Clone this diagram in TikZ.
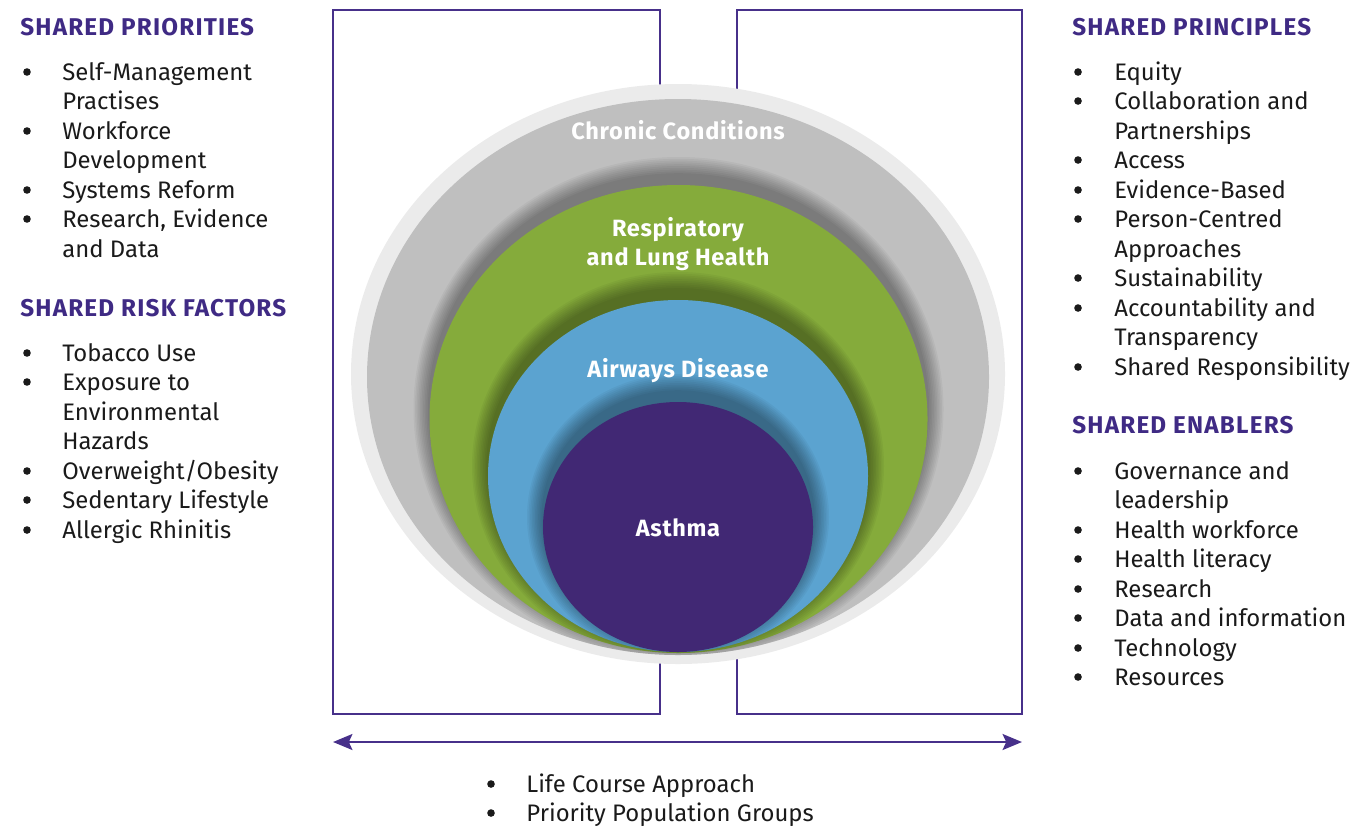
\documentclass[tikz,border=0pt]{standalone}
\usepackage{fontspec}
\setmainfont{Fira Sans}
\usetikzlibrary{arrows.meta}
\definecolor{hdr}{HTML}{3F2A84}
\definecolor{txt}{HTML}{1A1A1A}
\definecolor{brk}{HTML}{47308A}
\definecolor{lgray}{HTML}{EBEBEB}
\definecolor{mgray}{HTML}{BFBFBF}
\definecolor{cgreen}{HTML}{85AB3B}
\definecolor{cblue}{HTML}{5BA3D0}
\definecolor{cpurple}{HTML}{412874}
\newcommand\itm[4]{\node[it] (#1) at (#2,#3+8) {#4};}
\newcommand\bul[2]{\fill[txt] (#1,#2) circle (3.8);}
\newcommand\shad[4]{\foreach \k in {1,...,10}{\fill[black,opacity=0.04] (#1,#2-10) ellipse ({#3+\k*1.6} and {#4+\k*1.8});}}
\begin{document}
\begin{tikzpicture}[x=0.02cm,y=-0.02cm,
  hd/.style={anchor=base west, text=hdr, font=\fontsize{13.8}{16}\selectfont\bfseries\addfontfeatures{LetterSpace=5}, inner sep=0},
  it/.style={anchor=base west, text=txt, font=\fontsize{13.6}{16}\selectfont, inner sep=0},
  lbl/.style={text=white, font=\fontsize{13.4}{17}\selectfont\bfseries\addfontfeatures{LetterSpace=3}, inner sep=0},
  brk/.style={draw=brk, line width=1.6pt}]
\useasboundingbox (0,0) rectangle (1364,825);
% brackets
\draw[brk] (333,10) rectangle (660,714);
\draw[brk] (737,10) rectangle (1022,714);
\coordinate (aL) at (333,742);
\coordinate (aR) at (1022,742);
\draw[brk, {Stealth[length=11pt,width=9pt,inset=2pt]}-{Stealth[length=11pt,width=9pt,inset=2pt]}] (aL) -- (aR);
% ellipses
\fill[lgray] (678,374) ellipse (327 and 290);
\fill[mgray] (678,377) ellipse (311 and 278);
\begin{scope}
\clip (678,377) ellipse (311 and 278);
\shad{678.5}{419}{249}{234}
\end{scope}
\fill[cgreen] (678.5,419) ellipse (249 and 234);
\begin{scope}
\clip (678.5,419) ellipse (249 and 234);
\shad{678}{476}{190}{176}
\end{scope}
\fill[cblue] (678,476) ellipse (190 and 176);
\begin{scope}
\clip (678,476) ellipse (190 and 176);
\shad{678}{527}{135}{125}
\end{scope}
\fill[cpurple] (678,527) ellipse (135 and 125);
% labels
\node[lbl] (cc) at (678,130) {Chronic Conditions};
\node[lbl] (rl1) at (678,230) {Respiratory};
\node[lbl] (rl2) at (678,259) {and Lung Health};
\node[lbl] (ad) at (678,371) {Airways Disease};
\node[lbl] (as) at (678,528) {Asthma};
% left lists
\node[hd] (hp) at (20,27+8) {SHARED PRIORITIES};
\bul{27}{72}\itm{p1}{62}{72}{Self-Management}
\itm{p1b}{62}{101}{Practises}
\bul{27}{131}\itm{p2}{62}{131}{Workforce}
\itm{p2b}{62}{160}{Development}
\bul{27}{190}\itm{p3}{62}{190}{Systems Reform}
\bul{27}{219}\itm{p4}{62}{219}{Research, Evidence}
\itm{p4b}{62}{249}{and Data}
\node[hd] (hr) at (20,308+8) {SHARED RISK FACTORS};
\bul{27}{353}\itm{r1}{62}{353}{Tobacco Use}
\bul{27}{382}\itm{r2}{62}{382}{Exposure to}
\itm{r2b}{62}{412}{Environmental}
\itm{r2c}{62}{441}{Hazards}
\bul{27}{471}\itm{r3}{62}{471}{Overweight/Obesity}
\bul{27}{500}\itm{r4}{62}{500}{Sedentary Lifestyle}
\bul{27}{530}\itm{r5}{62}{530}{Allergic Rhinitis}
% right lists
\node[hd] (hs) at (1072,27+8) {SHARED PRINCIPLES};
\bul{1078}{72}\itm{s1}{1114}{72}{Equity}
\bul{1078}{101}\itm{s2}{1114}{101}{Collaboration and}
\itm{s2b}{1114}{131}{Partnerships}
\bul{1078}{160}\itm{s3}{1114}{160}{Access}
\bul{1078}{190}\itm{s4}{1114}{190}{Evidence-Based}
\bul{1078}{219}\itm{s5}{1114}{219}{Person-Centred}
\itm{s5b}{1114}{249}{Approaches}
\bul{1078}{278}\itm{s6}{1114}{278}{Sustainability}
\bul{1078}{308}\itm{s7}{1114}{308}{Accountability and}
\itm{s7b}{1114}{337}{Transparency}
\bul{1078}{367}\itm{s8}{1114}{367}{Shared Responsibility}
\node[hd] (he) at (1072,425+8) {SHARED ENABLERS};
\bul{1078}{471}\itm{e1}{1114}{471}{Governance and}
\itm{e1b}{1114}{500}{leadership}
\bul{1078}{530}\itm{e2}{1114}{530}{Health workforce}
\bul{1078}{559}\itm{e3}{1114}{559}{Health literacy}
\bul{1078}{589}\itm{e4}{1114}{589}{Research}
\bul{1078}{618}\itm{e5}{1114}{618}{Data and information}
\bul{1078}{648}\itm{e6}{1114}{648}{Technology}
\bul{1078}{677}\itm{e7}{1114}{677}{Resources}
% bottom list
\bul{491}{784}\itm{b1}{526}{784}{Life Course Approach}
\bul{491}{813}\itm{b2}{526}{813}{Priority Population Groups}
\end{tikzpicture}
\end{document}
